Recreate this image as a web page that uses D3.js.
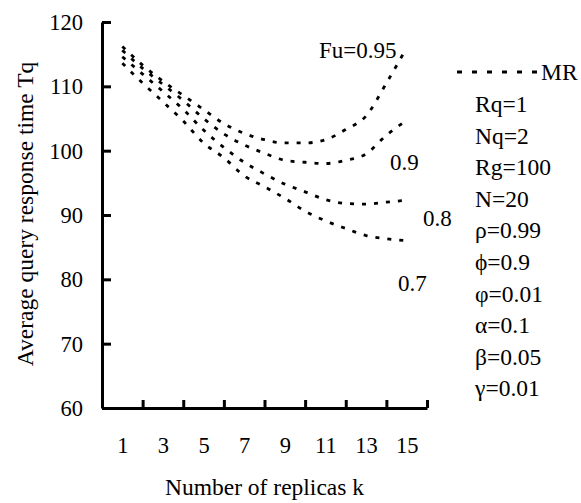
<!DOCTYPE html>
<html>
<head>
<meta charset="utf-8">
<script src="https://cdn.jsdelivr.net/npm/d3@7"></script>
<style>
  body { margin: 0; background: #fff; }
  .axis path, .axis line { stroke: #000; stroke-width: 3; }
</style>
</head>
<body>
<div class="chart"></div>
<script>
// Chart data
var replicas = [1, 2, 3, 4, 5, 6, 7, 8, 9, 10, 11, 12, 13, 14, 15];
var fu095 = [116.2, 113.3, 110.8, 108.6, 106.4, 104.2, 102.7, 101.7, 101.2, 101.2, 101.7, 103.3, 105.4, 110.5, 116.0];
var fu090 = [115.6, 112.8, 110.3, 107.8, 105.0, 102.6, 100.9, 99.6, 98.5, 98.2, 98.0, 98.5, 99.5, 102.4, 104.7];
var fu080 = [114.6, 111.9, 109.2, 106.4, 103.2, 100.5, 98.2, 96.4, 94.8, 93.6, 92.4, 91.8, 91.7, 92.0, 92.3];
var fu070 = [113.6, 110.5, 107.6, 104.6, 101.2, 98.9, 96.1, 94.4, 92.6, 90.6, 89.1, 87.9, 86.8, 86.3, 86.0];
var seriesLabels = ["Fu=0.95", "0.9", "0.8", "0.7"];
var yTicks = [60, 70, 80, 90, 100, 110, 120];
var xTickMarks = [2, 4, 6, 8, 10, 12, 14, 16];
var xTickLabels = [1, 3, 5, 7, 9, 11, 13, 15];
var legendLines = ["Rq=1", "Nq=2", "Rg=100", "N=20", "\u03c1=0.99", "\u03d5=0.9", "\u03c6=0.01", "\u03b1=0.1", "\u03b2=0.05", "\u03b3=0.01"];

var serif = "'Liberation Serif', 'DejaVu Serif', 'Times New Roman', serif";

// Set up chart
var svgWidth = 581;
var svgHeight = 503;
var margin = {top: 22, right: 154, bottom: 95, left: 102};
var width = svgWidth - margin.left - margin.right;
var height = svgHeight - margin.top - margin.bottom;

var svg = d3.select(".chart")
  .append("svg")
  .attr("width", svgWidth)
  .attr("height", svgHeight)
  .attr("font-family", serif);

var chart = svg.append("g")
  .attr("transform", "translate(" + margin.left + "," + margin.top + ")");

// Scales
var x = d3.scaleLinear().domain([0, 16]).range([0, width]);
var y = d3.scaleLinear().domain([60, 120]).range([height, 0]);

// Y axis, ticks pointing inward
var leftAxis = d3.axisLeft(y)
  .tickValues(yTicks)
  .tickSizeInner(-9)
  .tickSizeOuter(0)
  .tickPadding(19);

chart.append("g")
  .attr("class", "axis")
  .call(leftAxis)
  .attr("font-family", null)
  .attr("font-size", null)
  .call(function(g) {
    g.selectAll("text").style("font-size", "22.5px").attr("dy", "0.34em");
  });

// X axis: tick marks on even k, labels on odd k
var bottomAxis = d3.axisBottom(x)
  .tickValues(xTickMarks)
  .tickSizeInner(-8)
  .tickSizeOuter(0)
  .tickFormat("");

chart.append("g")
  .attr("class", "axis")
  .attr("transform", "translate(0," + height + ")")
  .call(bottomAxis);

var labelAxis = d3.axisBottom(x)
  .tickValues(xTickLabels)
  .tickSize(0)
  .tickPadding(29)
  .tickFormat(d3.format("d"));

chart.append("g")
  .attr("transform", "translate(0," + height + ")")
  .call(labelAxis)
  .attr("font-family", null)
  .attr("font-size", null)
  .call(function(g) {
    g.select(".domain").remove();
    g.selectAll("text").style("font-size", "22.5px");
  });

// Lines (short dashes, like the scanned figure)
var line = d3.line()
  .x(function(d, i) { return x(replicas[i]); })
  .y(function(d) { return y(d); })
  .curve(d3.curveMonotoneX);

var allSeries = [fu095, fu090, fu080, fu070];

chart.selectAll(".series")
  .data(allSeries)
  .enter()
  .append("path")
  .attr("class", "series")
  .attr("fill", "none")
  .attr("stroke", "#000")
  .attr("stroke-width", 2.8)
  .attr("stroke-dasharray", "4 8")
  .attr("d", line);

// Series labels
var labelPos = [
  {x: 319, y: 58},
  {x: 390, y: 170},
  {x: 423, y: 226},
  {x: 398, y: 291}
];

svg.selectAll(".series-label")
  .data(seriesLabels)
  .enter()
  .append("text")
  .attr("class", "series-label")
  .attr("x", function(d, i) { return labelPos[i].x; })
  .attr("y", function(d, i) { return labelPos[i].y; })
  .style("font-size", "23px")
  .text(function(d) { return d; });

// Legend
var legend = svg.append("g").attr("transform", "translate(457,72)");

legend.append("line")
  .attr("x1", 0)
  .attr("x2", 82)
  .attr("y1", 0)
  .attr("y2", 0)
  .attr("stroke", "#000")
  .attr("stroke-width", 2.8)
  .attr("stroke-dasharray", "5 10");

legend.append("text")
  .attr("x", 84)
  .attr("y", 8)
  .style("font-size", "23.5px")
  .text("MR");

legend.selectAll(".param")
  .data(legendLines)
  .enter()
  .append("text")
  .attr("class", "param")
  .attr("x", 18)
  .attr("y", function(d, i) { return 40 + i * 31.6; })
  .style("font-size", "23.5px")
  .text(function(d) { return d; });

// Axis titles
svg.append("text")
  .attr("transform", "translate(" + (margin.left + width / 2) + "," + 495 + ")")
  .style("text-anchor", "middle")
  .style("font-size", "23.5px")
  .text("Number of replicas k");

svg.append("text")
  .attr("transform", "translate(33," + 214 + ") rotate(-90)")
  .style("text-anchor", "middle")
  .style("font-size", "23.5px")
  .text("Average query response time Tq");
</script>
</body>
</html>
